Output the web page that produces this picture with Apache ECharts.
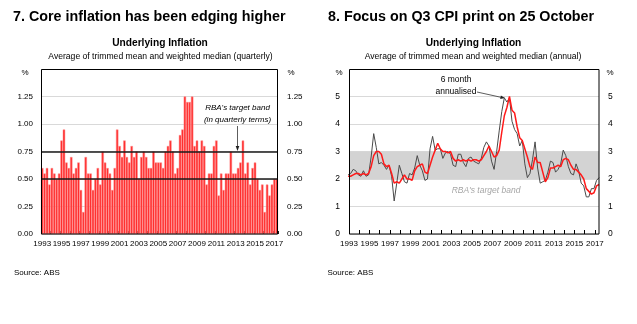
<!DOCTYPE html>
<html><head><meta charset="utf-8">
<script src="https://cdn.jsdelivr.net/npm/echarts@6/dist/echarts.min.js"></script>
<style>html,body{margin:0;padding:0;background:#fff;}#c{width:637px;height:324px;}</style>
</head><body><div id="c"></div>
<script>
// ---------- data ----------
const firstYear = 1993;
const lastYear = 2017;
const lastQuarter = 2;
const yearLabels = [1993,1995,1997,1999,2001,2003,2005,2007,2009,2011,2013,2015,2017];

// Chart 7: quarterly underlying inflation, 1993Q1 - 2017Q2 (%)
const quarterlyValues = [
  0.60,0.55,0.60,0.45, 0.60,0.55,0.50,0.55, 0.85,0.95,0.65,0.60, 0.70,0.55,0.60,0.65,
  0.40,0.20,0.70,0.55, 0.55,0.40,0.50,0.60, 0.45,0.75,0.65,0.60, 0.55,0.40,0.60,0.95,
  0.80,0.70,0.85,0.70, 0.65,0.80,0.70,0.75, 0.50,0.70,0.75,0.70, 0.60,0.60,0.75,0.65,
  0.65,0.65,0.60,0.75, 0.80,0.85,0.75,0.55, 0.60,0.90,0.95,1.25, 1.20,1.20,1.25,0.80,
  0.85,0.75,0.85,0.80, 0.45,0.55,0.55,0.80, 0.85,0.35,0.55,0.40, 0.55,0.55,0.75,0.55,
  0.55,0.60,0.65,0.85, 0.55,0.65,0.45,0.60, 0.65,0.50,0.40,0.45, 0.20,0.45,0.35,0.45,
  0.50,0.50
];
const quarterlyBand = [0.5, 0.75];

// Chart 8: 1992Q4 - 2017Q2 (%)
const sixMonthAnnualised = [
  2.15,
  2.20,2.35,2.30,2.15, 2.10,2.30,2.10,2.15, 2.80,3.65,3.15,2.55, 2.60,2.50,2.35,2.50,
  2.10,1.20,1.85,2.50, 2.20,1.90,1.85,2.20, 2.15,2.40,2.85,2.50, 2.30,1.95,2.00,3.10,
  3.55,3.05,3.10,3.10, 2.75,2.95,3.00,2.90, 2.50,2.45,2.90,2.90, 2.60,2.45,2.75,2.80,
  2.65,2.60,2.55,2.75, 3.15,3.35,3.20,2.65, 2.35,3.00,3.75,4.45, 4.95,4.80,4.95,4.10,
  3.80,3.65,3.20,3.40, 2.55,2.05,2.20,2.70, 3.35,2.40,1.85,1.90, 1.95,2.25,2.65,2.60,
  2.25,2.35,2.55,3.05, 2.85,2.45,2.20,2.15, 2.55,2.30,1.85,1.75, 1.35,1.35,1.65,1.65,
  1.95,2.05
];
const annualValues = [
  2.10,
  2.10,2.15,2.20,2.20, 2.15,2.20,2.15,2.20, 2.45,2.85,3.00,3.00, 2.90,2.55,2.45,2.50,
  2.20,1.85,1.90,1.85, 2.00,2.15,2.00,2.00, 1.95,2.30,2.45,2.50, 2.55,2.25,2.20,2.50,
  2.80,3.05,3.30,3.10, 3.00,3.00,2.95,3.00, 2.75,2.65,2.70,2.65, 2.70,2.65,2.70,2.65,
  2.70,2.70,2.65,2.70, 2.85,3.00,3.20,3.00, 2.80,2.85,3.05,3.70, 4.30,4.60,5.00,4.50,
  4.40,3.90,3.50,3.40, 3.10,2.80,2.45,2.35, 2.80,2.60,2.60,2.25, 1.90,2.05,2.40,2.40,
  2.45,2.50,2.45,2.70, 2.75,2.70,2.50,2.35, 2.35,2.25,2.15,2.00, 1.65,1.55,1.45,1.50,
  1.75,1.80
];
const annualBand = [2, 3];

// ---------- build categories ----------
const quarterlyCategories = [];
for (let y = firstYear; y <= lastYear; y++) {
  for (let q = 1; q <= 4; q++) {
    if (y === lastYear && q > lastQuarter) break;
    quarterlyCategories.push(y + 'Q' + q);
  }
}
const lineQuarters = ['1992Q4'].concat(quarterlyCategories);
function qPos(label) { // place at last month of quarter
  const y = +label.slice(0, 4), q = +label.slice(5);
  return y + (q - 1) / 4 + 0.16;
}
const graySeries = lineQuarters.map((c, i) => [qPos(c), sixMonthAnnualised[i]]);
const redSeries = lineQuarters.map((c, i) => [qPos(c), annualValues[i]]);

const FONT = 'Liberation Sans, Arial, sans-serif';
const tickFont = 8;

const chart = echarts.init(document.getElementById('c'), null, {renderer: 'canvas'});

function txt(text, x, y, size, opts) {
  opts = opts || {};
  return {
    type: 'text', z: 100, silent: true,
    style: {
      text: text, x: x, y: y,
      font: (opts.italic ? 'italic ' : '') + (opts.bold ? 'bold ' : '') + size + 'px ' + FONT,
      fill: opts.color || '#000',
      align: opts.align || 'left', verticalAlign: 'middle'
    }
  };
}

const option = {
  animation: false,
  backgroundColor: '#fff',
  grid: [
    {left: 41, top: 69, width: 237, height: 165},
    {left: 349, top: 69, width: 250, height: 165}
  ],
  xAxis: [
    {
      gridIndex: 0, type: 'category', data: quarterlyCategories, boundaryGap: true,
      axisLine: {show: false},
      axisTick: {show: true, inside: true, length: 3, interval: (i) => i % 4 === 0, lineStyle: {color: '#000'}},
      axisLabel: {interval: (i) => i % 8 === 0, formatter: (v) => v.slice(0, 4), fontSize: tickFont, fontFamily: FONT, color: '#000', margin: 6, hideOverlap: false},
      splitLine: {show: false}
    },
    {
      gridIndex: 1, type: 'value', min: 1993, max: 2017.4, interval: 1,
      axisLine: {show: false},
      axisTick: {show: true, inside: true, length: 4, lineStyle: {color: '#000'}},
      axisLabel: {fontSize: tickFont, fontFamily: FONT, color: '#000', margin: 6, showMaxLabel: false, hideOverlap: false,
        formatter: (v) => (Number.isInteger(v) && yearLabels.indexOf(v) >= 0) ? String(v) : ''},
      splitLine: {show: false}
    }
  ],
  yAxis: [
    {
      gridIndex: 0, type: 'value', position: 'left', min: 0, max: 1.5, interval: 0.25,
      axisLine: {show: false}, axisTick: {show: false},
      axisLabel: {fontSize: tickFont, fontFamily: FONT, color: '#000', margin: 8, formatter: (v) => v >= 1.5 ? '' : v.toFixed(2)},
      splitLine: {show: true, lineStyle: {color: '#d9d9d9', width: 1}}
    },
    {
      gridIndex: 0, type: 'value', position: 'right', min: 0, max: 1.5, interval: 0.25,
      axisLine: {show: false}, axisTick: {show: false},
      axisLabel: {fontSize: tickFont, fontFamily: FONT, color: '#000', margin: 9, formatter: (v) => v >= 1.5 ? '' : v.toFixed(2)},
      splitLine: {show: false}
    },
    {
      gridIndex: 1, type: 'value', position: 'left', min: 0, max: 6, interval: 1,
      axisLine: {show: false}, axisTick: {show: false},
      axisLabel: {fontSize: tickFont + 0.5, fontFamily: FONT, color: '#000', margin: 9, formatter: (v) => v >= 6 ? '' : String(v)},
      splitLine: {show: true, lineStyle: {color: '#d9d9d9', width: 1}}
    },
    {
      gridIndex: 1, type: 'value', position: 'right', min: 0, max: 6, interval: 1,
      axisLine: {show: false}, axisTick: {show: false},
      axisLabel: {fontSize: tickFont + 0.5, fontFamily: FONT, color: '#000', margin: 9, formatter: (v) => v >= 6 ? '' : String(v)},
      splitLine: {show: false}
    }
  ],
  series: [
    {
      type: 'bar', xAxisIndex: 0, yAxisIndex: 0, data: quarterlyValues,
      barCategoryGap: '0%',
      itemStyle: {color: '#ff2b2b', borderColor: '#ff8f8f', borderWidth: 0.5},
      markLine: {
        silent: true, symbol: 'none', label: {show: false},
        lineStyle: {color: '#1a1a1a', width: 1.6, type: 'solid'},
        data: quarterlyBand.map((v) => ({yAxis: v}))
      }
    },
    {
      type: 'line', xAxisIndex: 1, yAxisIndex: 2, data: [], symbol: 'none',
      markArea: {silent: true, itemStyle: {color: '#d3d3d3'},
        data: [[{yAxis: annualBand[0]}, {yAxis: annualBand[1]}]]}
    },
    {
      type: 'line', xAxisIndex: 1, yAxisIndex: 2, data: graySeries, symbol: 'none',
      lineStyle: {color: '#4a4a4a', width: 1}
    },
    {
      type: 'line', xAxisIndex: 1, yAxisIndex: 2, data: redSeries, symbol: 'none',
      lineStyle: {color: '#ff1a1a', width: 1.5}
    }
  ],
  graphic: [
    // plot frames
    {type: 'rect', z: 90, silent: true, shape: {x: 41.5, y: 69.5, width: 236, height: 164.5}, style: {fill: null, stroke: '#000', lineWidth: 1}},
    {type: 'rect', z: 90, silent: true, shape: {x: 349.5, y: 69.5, width: 249.5, height: 164.5}, style: {fill: null, stroke: '#000', lineWidth: 1}},
    // titles
    txt('7. Core inflation has been edging higher', 13, 17.5, 14.3, {bold: true}),
    txt('8. Focus on Q3 CPI print on 25 October', 328, 17.5, 14.3, {bold: true}),
    txt('Underlying Inflation', 160, 43.5, 10.2, {bold: true, align: 'center'}),
    txt('Underlying Inflation', 473.5, 43.5, 10.2, {bold: true, align: 'center'}),
    txt('Average of trimmed mean and weighted median (quarterly)', 160.5, 56.5, 8.6, {align: 'center'}),
    txt('Average of trimmed mean and weighted median (annual)', 473, 56.5, 8.6, {align: 'center'}),
    // % units
    txt('%', 25, 73, 8, {align: 'center'}),
    txt('%', 291, 73, 8, {align: 'center'}),
    txt('%', 339, 73, 8, {align: 'center'}),
    txt('%', 610, 73, 8, {align: 'center'}),
    // annotations chart 7
    txt("RBA's target band", 237.5, 107.7, 8, {italic: true, align: 'center'}),
    txt('(in quarterly terms)', 237.5, 119.3, 8, {italic: true, align: 'center'}),
    {type: 'line', z: 100, silent: true, shape: {x1: 237.5, y1: 126, x2: 237.5, y2: 147}, style: {stroke: '#333', lineWidth: 0.8}},
    {type: 'polygon', z: 100, silent: true, shape: {points: [[237.5, 151], [235.7, 146], [239.3, 146]]}, style: {fill: '#222'}},
    // annotations chart 8
    txt('6 month', 456, 80, 8.5, {align: 'center'}),
    txt('annualised', 456, 91.5, 8.5, {align: 'center'}),
    {type: 'line', z: 100, silent: true, shape: {x1: 477, y1: 92, x2: 501, y2: 97.3}, style: {stroke: '#333', lineWidth: 0.8}},
    {type: 'polygon', z: 100, silent: true, shape: {points: [[505, 98], [500.2, 99.1], [500.9, 95.6]]}, style: {fill: '#222'}},
    txt("RBA's target band", 486, 191, 8.5, {italic: true, align: 'center', color: '#a6a6a6'}),
    // sources
    txt('Source: ABS', 14, 273, 8),
    txt('Source: ABS', 327.5, 273, 8)
  ]
};
chart.setOption(option);
</script>
</body></html>
